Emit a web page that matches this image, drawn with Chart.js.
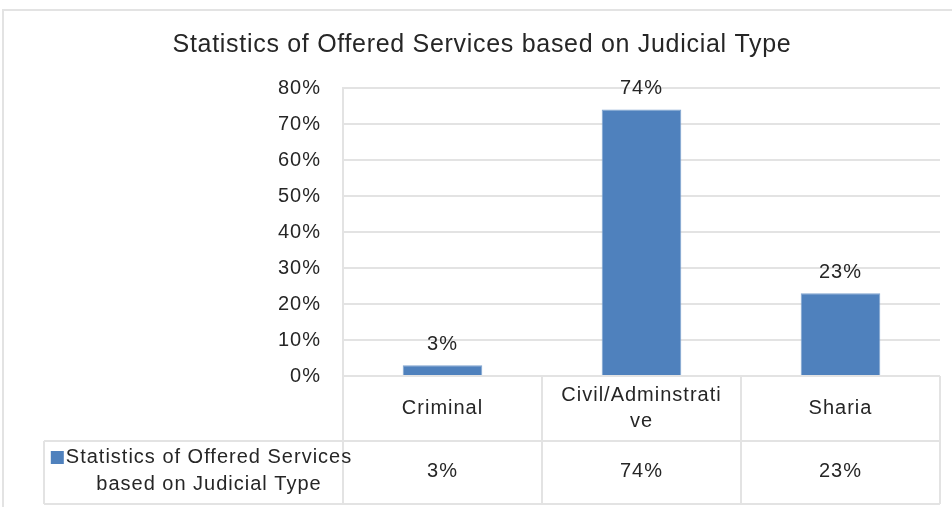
<!DOCTYPE html>
<html>
<head>
<meta charset="utf-8">
<script src="https://cdn.jsdelivr.net/npm/chart.js@4.4.1/dist/chart.umd.min.js"></script>
<style>
    html, body { margin: 0; padding: 0; background: #fff; }
    #wrap { width: 952px; height: 507px; position: relative; }
</style>
</head>
<body>
<div id="wrap"><canvas id="chart"></canvas></div>
<script>
// Data
const chartTitle = 'Statistics of Offered Services based on Judicial Type';
const seriesName = 'Statistics of Offered Services based on Judicial Type';
const categories = ['Criminal', 'Civil/Adminstrative', 'Sharia'];
const values = [3, 74, 23];
const yTicks = [0, 10, 20, 30, 40, 50, 60, 70, 80];

const FONT = '"Liberation Sans", Arial, sans-serif';
const TEXT = '#262626';
const LINE = '#e3e3e3';
const BLUE = '#4f81bd';

// wrap by characters, like the cell in the table does
function charWrap(ctx, text, maxW) {
    const lines = [];
    let cur = '';
    for (const ch of text) {
        if (ctx.measureText(cur + ch).width > maxW && cur) {
            lines.push(cur);
            cur = ch;
        } else {
            cur += ch;
        }
    }
    if (cur) lines.push(cur);
    return lines;
}

// wrap by words
function wordWrap(ctx, text, maxW) {
    const lines = [];
    let cur = '';
    text.split(' ').forEach(w => {
        const t = cur ? cur + ' ' + w : w;
        if (ctx.measureText(t).width > maxW && cur) {
            lines.push(cur);
            cur = w;
        } else {
            cur = t;
        }
    });
    if (cur) lines.push(cur);
    return lines;
}

// outer frame + title
const frame = {
    id: 'frame',
    beforeDraw(chart) {
        const ctx = chart.ctx;
        // the source text runs a little wider than Arial
        ctx.letterSpacing = '1px';
        ctx.save();
        ctx.strokeStyle = LINE;
        ctx.lineWidth = 2;
        ctx.beginPath();
        ctx.moveTo(3, chart.height);
        ctx.lineTo(3, 10);
        ctx.lineTo(chart.width, 10);
        ctx.stroke();

        ctx.letterSpacing = '0.7px';
        ctx.font = '25px ' + FONT;
        ctx.fillStyle = TEXT;
        ctx.textAlign = 'center';
        ctx.textBaseline = 'middle';
        ctx.fillText(chartTitle, 482, 45);
        ctx.restore();
    }
};

const barLabels = {
    id: 'barLabels',
    afterDatasetsDraw(chart) {
        const ctx = chart.ctx;
        ctx.save();
        ctx.font = '20px ' + FONT;
        ctx.fillStyle = TEXT;
        ctx.textAlign = 'center';
        ctx.textBaseline = 'bottom';
        chart.getDatasetMeta(0).data.forEach((bar, i) => {
            ctx.fillText(values[i] + '%', bar.x, bar.y - 11);
        });
        ctx.restore();
    }
};

// Data table under the plot
const dataTable = {
    id: 'dataTable',
    afterDraw(chart) {
        const ctx = chart.ctx;
        const area = chart.chartArea;
        const x = chart.scales.x;
        const cellW = (area.right - area.left) / categories.length;
        const r1Top = area.bottom;
        const r1Bot = r1Top + 65;
        const r2Bot = r1Bot + 63;
        const legLeft = 44;

        ctx.save();
        ctx.strokeStyle = LINE;
        ctx.lineWidth = 2;
        ctx.beginPath();
        for (let i = 0; i <= categories.length; i++) {
            const px = area.left + i * cellW;
            ctx.moveTo(px, r1Top);
            ctx.lineTo(px, r2Bot);
        }
        ctx.moveTo(legLeft, r1Bot);
        ctx.lineTo(area.right, r1Bot);
        ctx.moveTo(legLeft, r2Bot);
        ctx.lineTo(area.right, r2Bot);
        ctx.moveTo(legLeft, r1Bot);
        ctx.lineTo(legLeft, r2Bot);
        ctx.stroke();

        ctx.font = '20px ' + FONT;
        ctx.fillStyle = TEXT;
        ctx.textAlign = 'center';
        ctx.textBaseline = 'middle';
        const lh = 26;
        categories.forEach((c, i) => {
            const cx = x.getPixelForValue(i);
            const lines = charWrap(ctx, c, 163);
            const y0 = (r1Top + r1Bot) / 2 - (lines.length - 1) * lh / 2;
            lines.forEach((l, j) => ctx.fillText(l, cx, y0 + j * lh));
            ctx.fillText(values[i] + '%', cx, (r1Bot + r2Bot) / 2 - 1);
        });

        // legend cell
        const legLines = wordWrap(ctx, seriesName, 300);
        const lcx = 209;
        const ly0 = (r1Bot + r2Bot) / 2 - 2 - (legLines.length - 1) * 27 / 2;
        legLines.forEach((l, j) => ctx.fillText(l, lcx, ly0 + j * 27));
        const w0 = ctx.measureText(legLines[0]).width;
        ctx.fillStyle = BLUE;
        ctx.fillRect(lcx - w0 / 2 - 15, ly0 - 6, 13, 13);
        ctx.restore();
    }
};

new Chart(document.getElementById('chart'), {
    type: 'bar',
    data: {
        labels: categories,
        datasets: [{
            label: seriesName,
            data: values,
            backgroundColor: BLUE,
            borderColor: '#7fa3cf',
            borderWidth: 1,
            barPercentage: 0.4,
            categoryPercentage: 1
        }]
    },
    options: {
        responsive: true,
        maintainAspectRatio: false,
        animation: false,
        layout: { padding: { top: 88, left: 3, right: 12, bottom: 131 } },
        plugins: {
            legend: { display: false },
            tooltip: { enabled: false },
            title: { display: false }
        },
        scales: {
            x: { display: false },
            y: {
                min: 0,
                max: 80,
                afterFit(scale) { scale.width = 340; },
                afterBuildTicks(scale) { scale.ticks = yTicks.map(v => ({ value: v })); },
                ticks: {
                    padding: 22,
                    color: TEXT,
                    font: { family: FONT, size: 20 },
                    callback: v => v + '%'
                },
                grid: { color: LINE, lineWidth: 2, drawTicks: false },
                border: { display: true, color: LINE, width: 2 }
            }
        }
    },
    plugins: [frame, barLabels, dataTable]
});
</script>
</body>
</html>
